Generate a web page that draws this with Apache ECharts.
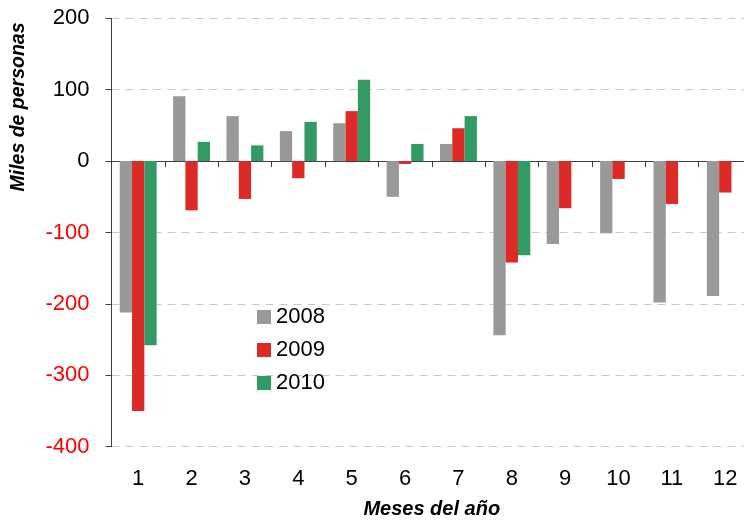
<!DOCTYPE html>
<html>
<head>
<meta charset="utf-8">
<script src="https://cdn.jsdelivr.net/npm/echarts@6/dist/echarts.min.js"></script>
<style>
  html, body { margin: 0; padding: 0; background: #fff; }
  #chart { width: 744px; height: 520px; }
</style>
</head>
<body>
<div id="chart"></div>
<script>
// datos
var meses = ['1', '2', '3', '4', '5', '6', '7', '8', '9', '10', '11', '12'];
var anios = ['2008', '2009', '2010'];
var v2008 = [-212, 91, 63, 42, 53, -50, 24, -244, -116, -101, -198, -189];
var v2009 = [-350, -69, -53, -24, 70, -4, 46, -142, -66, -25, -60, -44];
var v2010 = [-258, 27, 22, 55, 114, 24, 63, -132, null, null, null, null];
var colores = ['#999999', '#dc2a26', '#329a64'];

var chart = echarts.init(document.getElementById('chart'));

function serie(nombre, datos, i) {
  return {
    name: nombre,
    type: 'bar',
    xAxisIndex: 0,
    data: datos,
    barWidth: 12.3,
    barGap: '0%',
    itemStyle: { color: colores[i] }
  };
}

chart.setOption({
  animation: false,
  textStyle: { fontFamily: 'Liberation Sans, Arial, sans-serif' },
  grid: { left: 111.5, width: 640.5, top: 18.3, height: 428.4, outerBoundsMode: 'none', containLabel: false },
  legend: {
    orient: 'vertical',
    left: 252,
    top: 301,
    itemWidth: 14,
    itemHeight: 14,
    itemGap: 11,
    icon: 'rect',
    data: anios,
    textStyle: { fontSize: 22, color: '#000' }
  },
  xAxis: [
    {
      type: 'category',
      data: meses,
      position: 'bottom',
      axisLine: { show: false, onZero: false },
      axisTick: { show: false },
      axisLabel: { fontSize: 22, color: '#000', margin: 21 },
      name: 'Meses del año',
      nameLocation: 'middle',
      nameGap: 53,
      nameTextStyle: { fontSize: 20, fontWeight: 'bold', fontStyle: 'italic', color: '#000' }
    },
    {
      type: 'category',
      data: meses,
      position: 'bottom',
      axisLine: { show: true, onZero: true, lineStyle: { color: '#404040', width: 1 } },
      axisTick: { show: true, length: 6, lineStyle: { color: '#404040' } },
      axisLabel: { show: false }
    }
  ],
  yAxis: {
    type: 'value',
    min: -400,
    max: 200,
    interval: 100,
    axisLine: { show: true, lineStyle: { color: '#404040', width: 1 } },
    axisTick: { show: true, length: 6, lineStyle: { color: '#404040' } },
    axisLabel: {
      fontSize: 22,
      margin: 22,
      color: function (v) { return v < 0 ? '#ff0000' : '#000'; }
    },
    splitLine: { lineStyle: { type: [8, 6], color: '#c8c8c8', width: 1 } }
  },
  graphic: [{
    type: 'text',
    x: 18.5,
    y: 107,
    rotation: Math.PI / 2,
    style: {
      text: 'Miles de personas',
      font: 'italic bold 19.5px "Liberation Sans", Arial, sans-serif',
      fill: '#000',
      align: 'center',
      verticalAlign: 'middle'
    }
  }],
  series: [
    serie(anios[0], v2008, 0),
    serie(anios[1], v2009, 1),
    serie(anios[2], v2010, 2)
  ]
});
</script>
</body>
</html>
